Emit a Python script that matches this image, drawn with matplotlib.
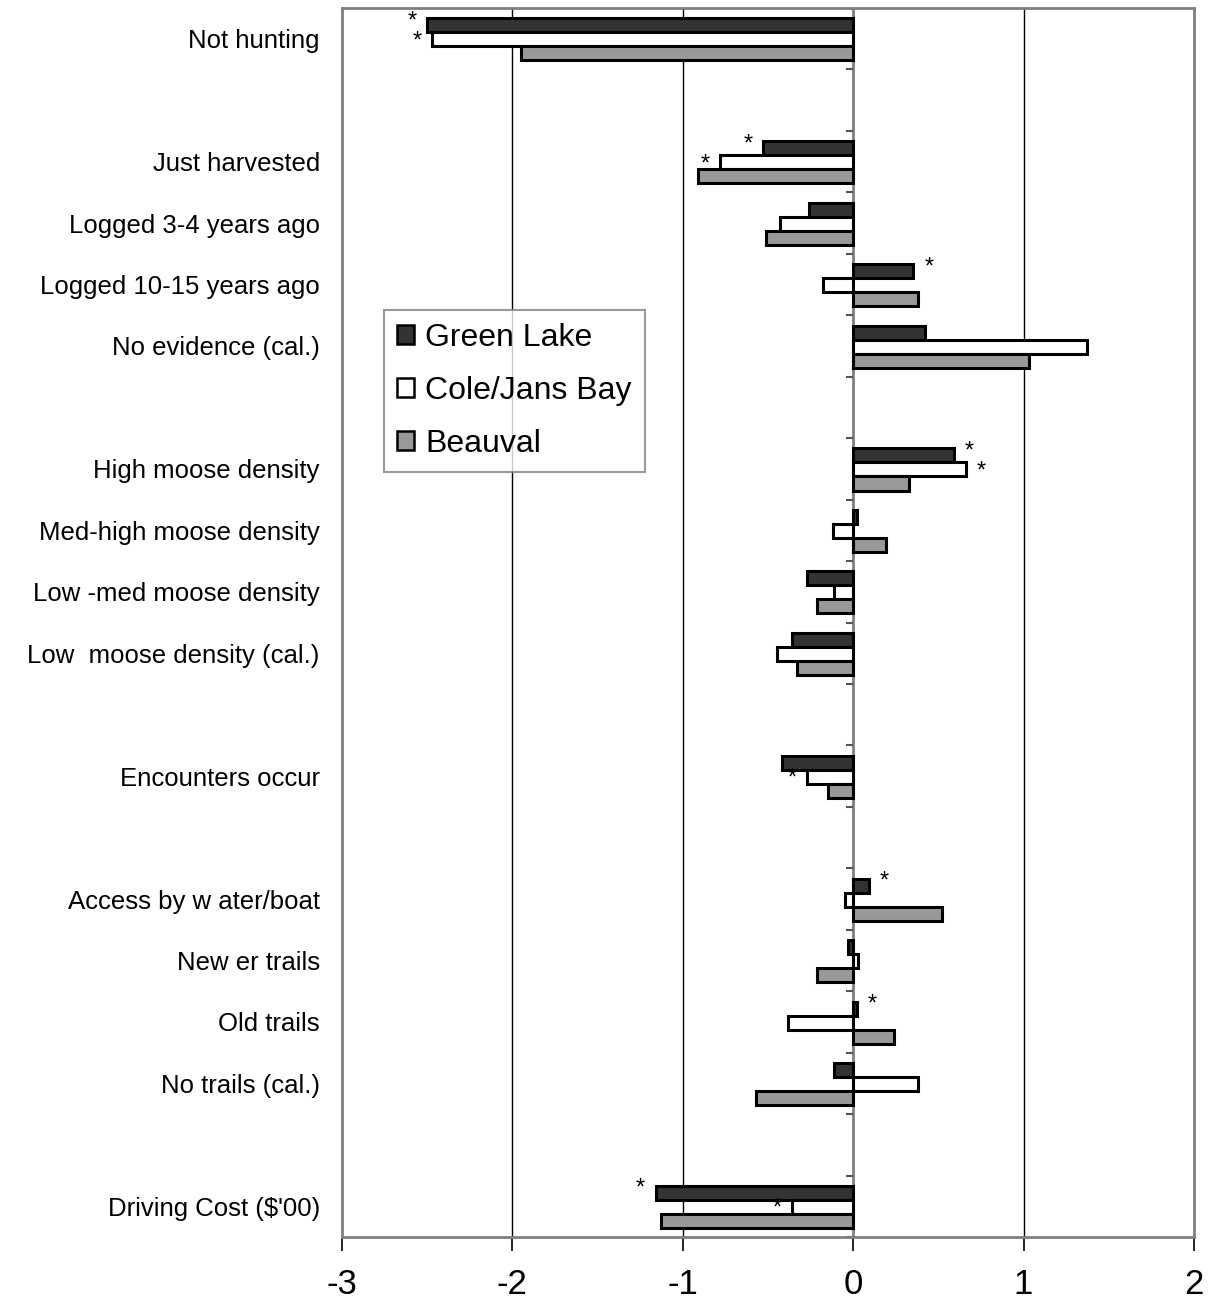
import numpy as np
import matplotlib.pyplot as plt
from matplotlib.patches import Patch

plt.rcParams['font.family'] = ['Liberation Sans', 'DejaVu Sans']

# Categories in order of slots (None = empty spacer slot)
categories = ["Not hunting", None,
              "Just harvested", "Logged 3-4 years ago", "Logged 10-15 years ago",
              "No evidence (cal.)", None,
              "High moose density", "Med-high moose density", "Low -med moose density",
              "Low  moose density (cal.)", None,
              "Encounters occur", None,
              "Access by w ater/boat", "New er trails", "Old trails", "No trails (cal.)", None,
              "Driving Cost ($'00)"]

series = ["Green Lake", "Cole/Jans Bay", "Beauval"]
colors = ["#333333", "#ffffff", "#999999"]

green_lake = [-2.50, None, -0.53, -0.26, 0.35, 0.42, None, 0.59, 0.02, -0.27, -0.36, None,
              -0.42, None, 0.09, -0.03, 0.02, -0.11, None, -1.16]
cole_jans = [-2.47, None, -0.78, -0.43, -0.18, 1.37, None, 0.66, -0.12, -0.11, -0.45, None,
             -0.27, None, -0.05, 0.03, -0.38, 0.38, None, -0.36]
beauval = [-1.95, None, -0.91, -0.51, 0.38, 1.03, None, 0.33, 0.19, -0.21, -0.33, None,
           -0.15, None, 0.52, -0.21, 0.24, -0.57, None, -1.13]

# significant estimates: (slot index, series index)
stars = [(0, 0), (0, 1), (2, 0), (2, 1), (4, 0), (7, 0), (7, 1), (12, 1),
         (14, 0), (16, 0), (19, 0), (19, 1)]

values = [green_lake, cole_jans, beauval]
n = len(categories)
slots = np.arange(n)
bar_h = 0.228

fig = plt.figure(figsize=(12.12, 13.06), dpi=100)
ax = fig.add_axes([0.2822, 0.0528, 0.7029, 0.9411])

for i, (vals, col) in enumerate(zip(values, colors)):
    idx = [k for k in range(n) if vals[k] is not None]
    v = [vals[k] for k in idx]
    ax.barh(slots[idx] + (i - 1) * bar_h + 0.01, v, height=bar_h, color=col,
            edgecolor='black', linewidth=2.2, zorder=3)

# asterisks beside significant bars (offset pixels: +y is up)
for k, s in stars:
    v = values[s][k]
    dx = -15 if v < 0 else 16
    dy = 4 if s == 0 else -2
    ax.annotate('*', xy=(v, k + (s - 1) * bar_h + 0.01), xytext=(dx, dy),
                textcoords='offset pixels', ha='center', va='center',
                fontsize=17, zorder=4)

ax.set_xlim(-3, 2)
ax.set_ylim(n - 0.5, -0.5)
ax.set_xticks(np.arange(-3, 3))
ax.set_xticklabels([str(t) for t in range(-3, 3)], fontsize=25)
ax.tick_params(axis='x', direction='out', length=10, width=1.2, pad=12)

labeled = [k for k in range(n) if categories[k] is not None]
ax.set_yticks(labeled)
ax.set_yticklabels([categories[k] for k in labeled], fontsize=18.5)
ax.tick_params(axis='y', length=0, pad=16)

for gx in [-2, -1, 1]:
    ax.axvline(gx, color='black', linewidth=1.0, zorder=1)
ax.axvline(0, color='#808080', linewidth=2, zorder=2)
# category boundary ticks on the zero axis
bounds = np.arange(n + 1) - 0.5
ax.hlines(bounds, -0.045, 0, color='#555555', linewidth=1.5, zorder=2)

for sp in ax.spines.values():
    sp.set_color('#808080')
    sp.set_linewidth(2)

handles = [Patch(facecolor=c, edgecolor='black', linewidth=1.8) for c in colors]
leg = ax.legend(handles, series, loc='upper left', bbox_to_anchor=(0.049, 0.754),
                fontsize=23, frameon=True, fancybox=False, borderaxespad=0,
                handlelength=0.55, handleheight=0.55, handletextpad=0.35,
                labelspacing=0.72, borderpad=0.4)
leg.get_frame().set_edgecolor('#808080')
leg.get_frame().set_linewidth(1.5)

fig.savefig('out.png', dpi=100)
